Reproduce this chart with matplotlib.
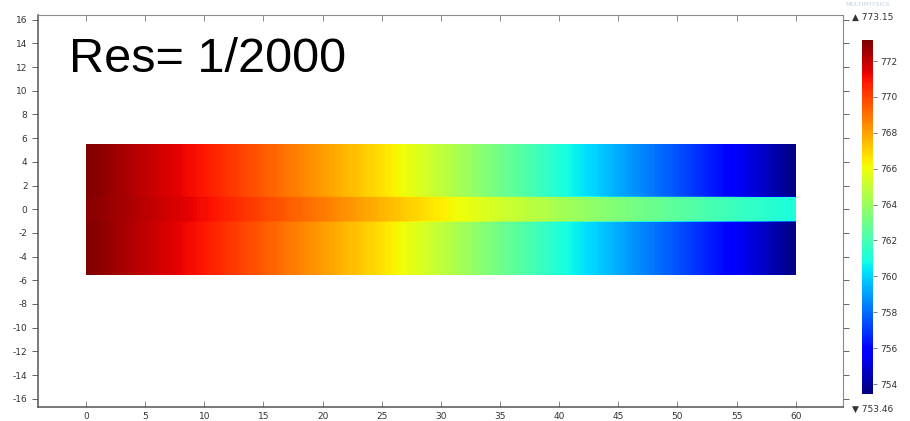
import numpy as np
import matplotlib
matplotlib.use("Agg")
import matplotlib.pyplot as plt

plt.rcParams["axes.unicode_minus"] = False

# temperature (K) read along the solid block and along the centre channel
x_pos = [0, 5, 10, 15, 20, 25, 30, 35, 40, 45, 50, 55, 60]
t_outer = [773.15, 772.0, 770.85, 769.45, 768.1, 766.7, 764.9, 763.0, 761.1, 759.2, 757.5, 755.65, 753.5]
t_channel = [773.0, 772.1, 771.1, 769.9, 768.8, 767.6, 766.4, 765.3, 764.3, 763.35, 762.5, 761.7, 760.95]
y_rows = [-5.5, -1.05, -0.95, 0.95, 1.05, 5.5]
row_kind = ["outer", "outer", "channel", "channel", "outer", "outer"]

t_min, t_max = 753.46, 773.15
cb_ticks = [754, 756, 758, 760, 762, 764, 766, 768, 770, 772]

fig = plt.figure(figsize=(9.1, 4.21), dpi=100)
ax = fig.add_axes([38 / 910, 14 / 421, 805 / 910, 392 / 421])

X, Y = np.meshgrid(x_pos, y_rows)
T = np.array([t_outer if k == "outer" else t_channel for k in row_kind])
levels = np.linspace(t_min, t_max, 300)
cs = ax.contourf(X, Y, T, levels=levels, cmap="jet", antialiased=False)

ax.set_xlim(-4.06, 64.0)
ax.set_ylim(-16.7, 16.4)
ax.set_xticks(range(0, 61, 5))
ax.set_yticks(range(-16, 17, 2))

for side in ["left", "bottom"]:
    ax.spines[side].set_color("#555555")
    ax.spines[side].set_linewidth(1.1)
for side in ["top", "right"]:
    ax.spines[side].set_color("#8a8a8a")
    ax.spines[side].set_linewidth(0.8)

ax.tick_params(axis="y", direction="out", length=4, width=0.7, color="#666666",
               labelsize=6.5, labelcolor="#333333", right=True)
ax.tick_params(axis="x", direction="in", length=4, width=0.7, color="#888888",
               labelsize=6.5, labelcolor="#333333", top=True)

ax.text(-1.45, 11.55, "Res= 1/2000", fontsize=35, family="Liberation Sans",
        color="black", ha="left", va="baseline")

# colour legend
cax = fig.add_axes([862 / 910, 27.3 / 421, 11 / 910, 353.3 / 421])
cb = fig.colorbar(cs, cax=cax, ticks=cb_ticks)
cb.outline.set_visible(False)
cax.tick_params(length=3, width=0.6, color="#666666", labelsize=6.5,
                labelcolor="#333333", pad=2)

fig.text(852 / 910, 1 - 17 / 421, "\u25b2 773.15", fontsize=6.5, color="#333333",
         ha="left", va="center")
fig.text(852 / 910, 1 - 409 / 421, "\u25bc 753.46", fontsize=6.5, color="#333333",
         ha="left", va="center")
fig.text(868 / 910, 1 - 4 / 421, "MULTIPHYSICS", fontsize=4.5, color="#c4d0dc",
         ha="center", va="center")

fig.savefig("out.png", dpi=100)
